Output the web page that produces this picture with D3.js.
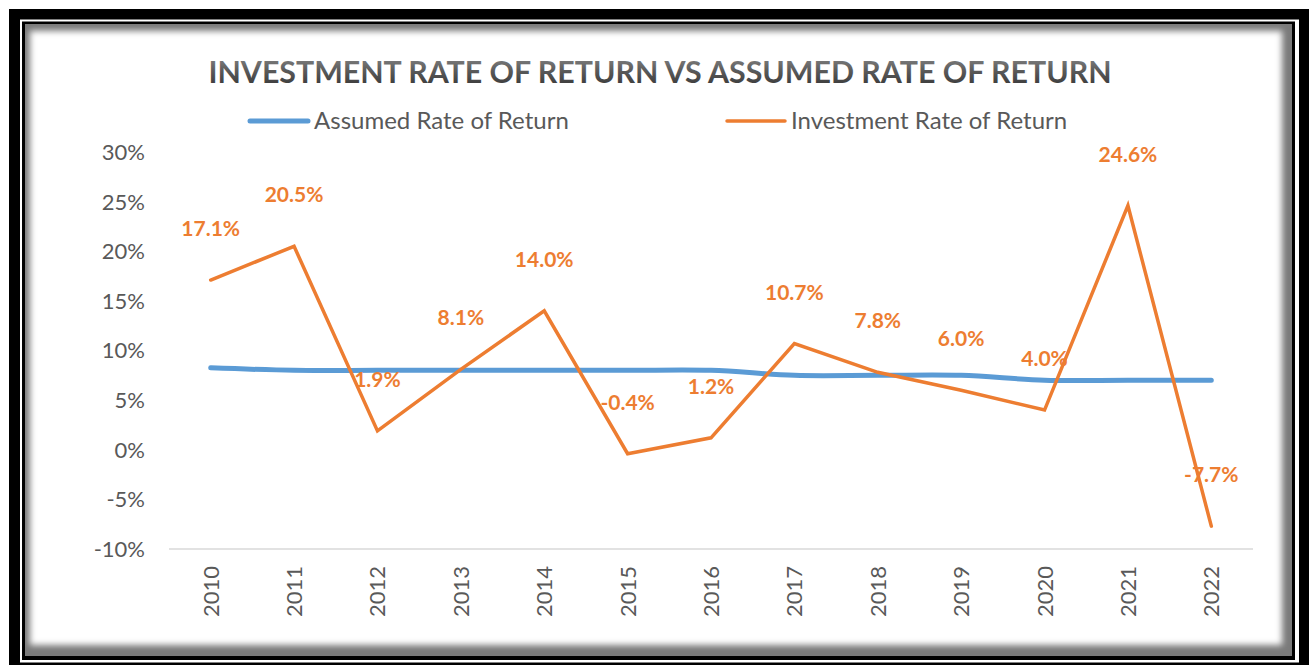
<!DOCTYPE html>
<meta charset="utf-8">
<script src="https://cdn.jsdelivr.net/npm/d3@7/dist/d3.min.js"></script>
<style>
body { margin: 0; background: #fff; }
text { font-family: Lato, "Open Sans", sans-serif; }
.tick-label { fill: #595959; font-size: 22px; }
.legend-label { fill: #595959; font-size: 24px; }
.data-label { fill: #ED7D31; font-size: 21px; font-weight: bold; }
</style>
<div id="chart"></div>
<script>
// chart values
const years = ["2010","2011","2012","2013","2014","2015","2016","2017","2018","2019","2020","2021","2022"];
const assumed = [8.25, 8.0, 8.0, 8.0, 8.0, 8.0, 8.0, 7.5, 7.5, 7.5, 7.0, 7.0, 7.0];
const investment = [17.1, 20.5, 1.9, 8.1, 14.0, -0.4, 1.2, 10.7, 7.8, 6.0, 4.0, 24.6, -7.7];
const yTicks = [-10, -5, 0, 5, 10, 15, 20, 25, 30];
const seriesNames = ["Assumed Rate of Return", "Investment Rate of Return"];
const colors = ["#5B9BD5", "#ED7D31"];

const W = 1309, H = 667;
const svg = d3.select("#chart").append("svg")
  .attr("width", W).attr("height", H);

const defs = svg.append("defs");
const blur = defs.append("filter").attr("id", "soft")
  .attr("x", "-5%").attr("y", "-5%").attr("width", "110%").attr("height", "110%");
blur.append("feGaussianBlur").attr("stdDeviation", 3);
defs.append("clipPath").attr("id", "inner")
  .append("rect").attr("x", 25).attr("y", 24).attr("width", 1267).attr("height", 632);
const tg = defs.append("linearGradient").attr("id", "titleGrad")
  .attr("x1", 0).attr("y1", 0).attr("x2", 0).attr("y2", 1);
tg.append("stop").attr("offset", "0%").attr("stop-color", "#8c8c8c");
tg.append("stop").attr("offset", "50%").attr("stop-color", "#5a5a5a");
tg.append("stop").attr("offset", "100%").attr("stop-color", "#333");

// frame
svg.append("rect").attr("x", 9).attr("y", 9).attr("width", 1300).attr("height", 656).attr("fill", "#000");
svg.append("rect").attr("x", 20).attr("y", 19.5).attr("width", 1279).attr("height", 643).attr("fill", "#fff");
svg.append("rect").attr("x", 22).attr("y", 21.5).attr("width", 1273).attr("height", 638.5).attr("fill", "#000");
const inner = svg.append("g").attr("clip-path", "url(#inner)");
inner.append("rect").attr("x", 25).attr("y", 24).attr("width", 1267).attr("height", 632).attr("fill", "#7a7a7a");
inner.append("rect").attr("x", 30).attr("y", 31).attr("width", 1252).attr("height", 614)
  .attr("fill", "#fff").attr("filter", "url(#soft)");

// scales
const x = d3.scaleBand().domain(years).range([169, 1253]);
const y = d3.scaleLinear().domain([-10, 30]).range([549, 152]);
const cx = d => x(d) + x.bandwidth() / 2;

// title
svg.append("text")
  .attr("x", 660).attr("y", 83)
  .attr("text-anchor", "middle")
  .attr("textLength", 903).attr("lengthAdjust", "spacingAndGlyphs")
  .style("font-size", "30px").style("font-weight", "bold")
  .attr("fill", "url(#titleGrad)")
  .text("INVESTMENT RATE OF RETURN VS ASSUMED RATE OF RETURN");

// legend
const legendX = [250, 727];
const leg = svg.append("g").selectAll("g").data(seriesNames).join("g");
leg.append("line")
  .attr("x1", (d, i) => legendX[i]).attr("x2", (d, i) => legendX[i] + 58)
  .attr("y1", 121).attr("y2", 121)
  .attr("stroke", (d, i) => colors[i])
  .attr("stroke-width", (d, i) => i === 0 ? 5 : 3.5)
  .attr("stroke-linecap", "round");
leg.append("text")
  .attr("class", "legend-label")
  .attr("x", (d, i) => legendX[i] + 64).attr("y", 129)
  .text(d => d);

// y axis labels
svg.append("g").selectAll("text").data(yTicks).join("text")
  .attr("class", "tick-label")
  .attr("x", 145).attr("y", d => y(d))
  .attr("dy", "0.36em")
  .attr("text-anchor", "end")
  .text(d => d + "%");

// x axis line + labels
svg.append("line")
  .attr("x1", x.range()[0]).attr("x2", x.range()[1])
  .attr("y1", y(-10)).attr("y2", y(-10))
  .attr("stroke", "#d9d9d9").attr("stroke-width", 1.5);
svg.append("g").selectAll("text").data(years).join("text")
  .attr("class", "tick-label")
  .attr("transform", d => `translate(${cx(d) + 8},566) rotate(-90)`)
  .attr("text-anchor", "end")
  .text(d => d);

// lines
const assumedLine = d3.line()
  .x((d, i) => cx(years[i])).y(d => y(d))
  .curve(d3.curveCatmullRom.alpha(0));
svg.append("path")
  .datum(assumed)
  .attr("d", assumedLine)
  .attr("fill", "none").attr("stroke", colors[0])
  .attr("stroke-width", 5).attr("stroke-linecap", "round");

const investLine = d3.line()
  .x((d, i) => cx(years[i])).y(d => y(d));
svg.append("path")
  .datum(investment)
  .attr("d", investLine)
  .attr("fill", "none").attr("stroke", colors[1])
  .attr("stroke-width", 3.5).attr("stroke-linejoin", "miter").attr("stroke-linecap", "round");

// data labels
svg.append("g").selectAll("text").data(investment).join("text")
  .attr("class", "data-label")
  .attr("x", (d, i) => cx(years[i]))
  .attr("y", d => y(d) - 44)
  .attr("text-anchor", "middle")
  .text(d => d.toFixed(1) + "%");
</script>
